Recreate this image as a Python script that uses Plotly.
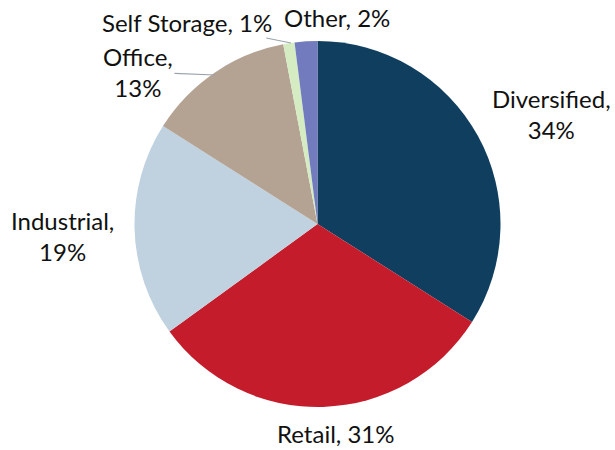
import plotly.graph_objects as go

# Portfolio allocation by property type
sectors = ["Diversified", "Retail", "Industrial", "Office", "Self Storage", "Other"]
shares = [34, 31, 19, 13, 1, 2]
colors = ["#103E5E", "#C51C2C", "#C0D2DF", "#B4A293", "#D5ECC3", "#737BBF"]

W, H = 615, 450
CX, CY, R = 317.5, 224, 183

# Label placement (pixel centres) and line breaks per sector
label_pos = {
    "Diversified": (551, 114, True),
    "Retail": (335, 433, False),
    "Industrial": (62, 236, True),
    "Office": (138, 72, True),
    "Self Storage": (187, 22, False),
    "Other": (337, 17, False),
}
# Sectors whose labels are joined to the slice edge by a leader line
leader_to = {
    "Office": (215, 75),
    "Self Storage": (291, 43),
}

fig = go.Figure(
    go.Pie(
        labels=sectors,
        values=shares,
        marker=dict(colors=colors, line=dict(width=0)),
        sort=False,
        direction="clockwise",
        rotation=0,
        textinfo="none",
        hoverinfo="label+percent",
        showlegend=False,
        domain=dict(
            x=[(CX - R) / W, (CX + R) / W],
            y=[(H - CY - R) / H, (H - CY + R) / H],
        ),
    )
)

annotations = []
for name, val in zip(sectors, shares):
    px, py, wrap = label_pos[name]
    text = f"{name},<br>{val}%" if wrap else f"{name}, {val}%"
    ann = dict(
        text=text,
        xref="paper",
        yref="paper",
        x=px / W,
        y=1 - py / H,
        xanchor="center",
        yanchor="middle",
        align="center",
        font=dict(family="Lato", size=24, color="#111111"),
        showarrow=False,
    )
    if name in leader_to:
        tx, ty = leader_to[name]
        ann.update(
            showarrow=True,
            arrowhead=0,
            arrowwidth=1.2,
            arrowcolor="#9aa3ad",
            axref="pixel",
            ayref="pixel",
            ax=px - tx,
            ay=py - ty,
            x=tx / W,
            y=1 - ty / H,
        )
    annotations.append(ann)

fig.update_layout(
    width=W,
    height=H,
    margin=dict(l=0, r=0, t=0, b=0),
    paper_bgcolor="white",
    plot_bgcolor="white",
    annotations=annotations,
)

fig.write_html("out.html")
